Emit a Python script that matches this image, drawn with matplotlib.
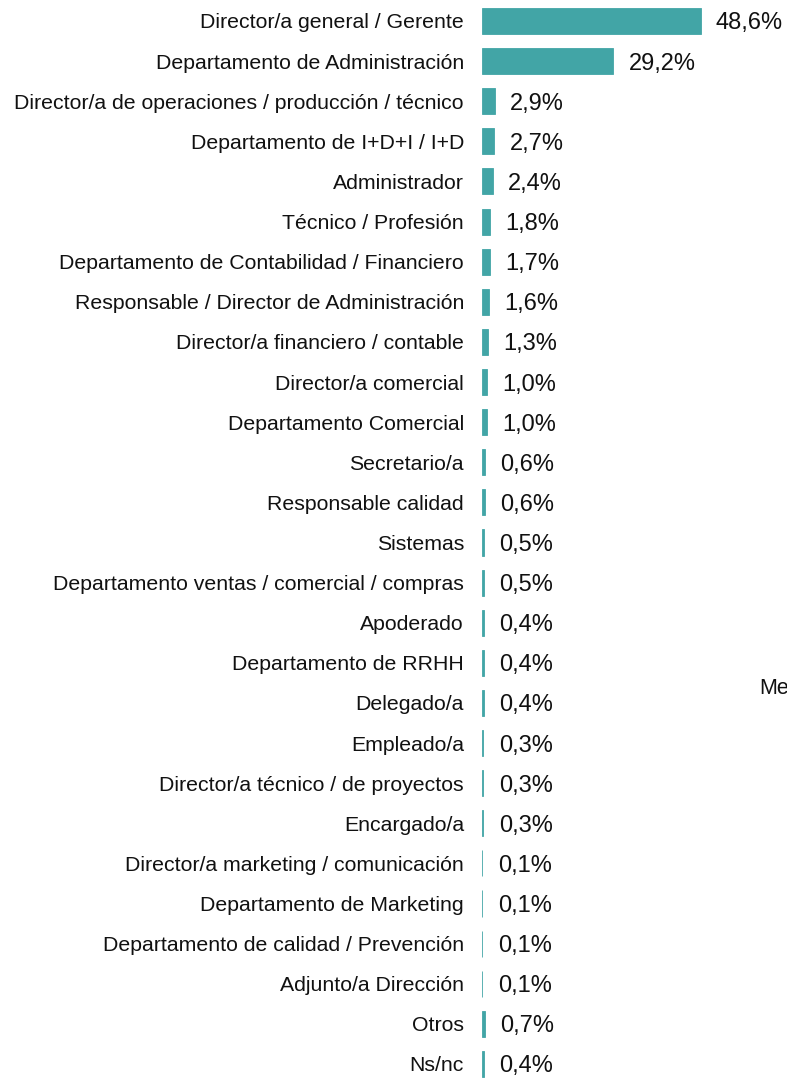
import matplotlib
matplotlib.use("Agg")
import matplotlib.pyplot as plt

categories = [
    "Director/a general / Gerente",
    "Departamento de Administración",
    "Director/a de operaciones / producción / técnico",
    "Departamento de I+D+I / I+D",
    "Administrador",
    "Técnico / Profesión",
    "Departamento de Contabilidad / Financiero",
    "Responsable / Director de Administración",
    "Director/a financiero / contable",
    "Director/a comercial",
    "Departamento Comercial",
    "Secretario/a",
    "Responsable calidad",
    "Sistemas",
    "Departamento ventas / comercial / compras",
    "Apoderado",
    "Departamento de RRHH",
    "Delegado/a",
    "Empleado/a",
    "Director/a técnico / de proyectos",
    "Encargado/a",
    "Director/a marketing / comunicación",
    "Departamento de Marketing",
    "Departamento de calidad / Prevención",
    "Adjunto/a Dirección",
    "Otros",
    "Ns/nc",
]
values = [48.6, 29.2, 2.9, 2.7, 2.4, 1.8, 1.7, 1.6, 1.3, 1.0, 1.0, 0.6, 0.6,
          0.5, 0.5, 0.4, 0.4, 0.4, 0.3, 0.3, 0.3, 0.1, 0.1, 0.1, 0.1, 0.7, 0.4]
value_labels = [f"{v:.1f}%".replace(".", ",") for v in values]

plt.rcParams['font.family'] = ['Liberation Sans', 'DejaVu Sans']

W, H = 787, 1078
fig = plt.figure(figsize=(W / 100, H / 100), dpi=100)
left = 482 / W
ax = fig.add_axes([left, 0, 1 - left, 1])

color = "#42a5a6"
ypos = list(range(len(categories)))
ax.barh(ypos, values, height=0.65, color=color, edgecolor=color, linewidth=0.6)

ax.set_xlim(0, 305 / 4.5)
ax.set_ylim(26.35, -0.523)
ax.set_yticks(ypos)
ax.set_yticklabels(categories, fontsize=15.35, color="#111111")
ax.tick_params(axis="y", length=0, pad=13)
ax.set_xticks([])
for s in ax.spines.values():
    s.set_visible(False)

for y, v, lab in zip(ypos, values, value_labels):
    ax.annotate(lab, xy=(v, y), xytext=(11, 0), textcoords="offset points",
                ha="left", va="center_baseline", fontsize=17, color="#111111")

fig.text(759 / W, 1 - 688 / H, "Me", ha="left", va="center", fontsize=15.5,
         color="#111111")

fig.savefig("out.png", dpi=100)
